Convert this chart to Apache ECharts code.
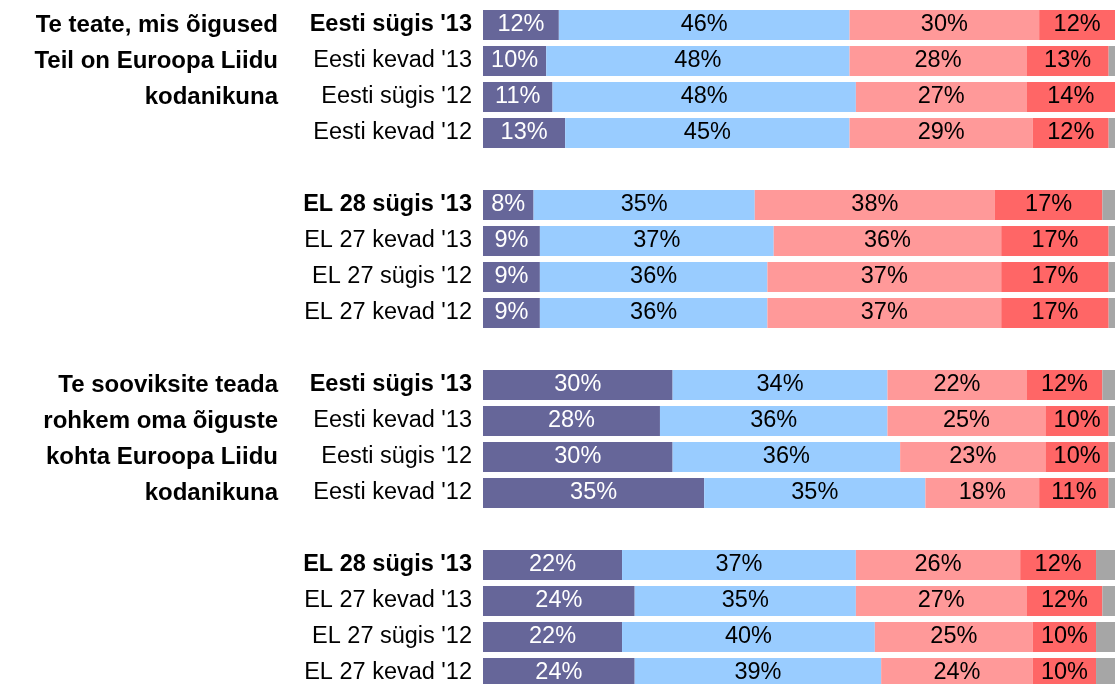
<!DOCTYPE html>
<html>
<head>
<meta charset="utf-8">
<script src="https://cdn.jsdelivr.net/npm/echarts@6/dist/echarts.min.js"></script>
<style>
html,body{margin:0;padding:0;background:#fff;overflow:hidden}
#chart{width:1115px;height:684px}
</style>
</head>
<body>
<div id="chart"></div>
<script>
// rows of the four blocks, top to bottom
var rowLabels = [
	"Eesti sügis '13", "Eesti kevad '13", "Eesti sügis '12", "Eesti kevad '12",
	"EL 28 sügis '13", "EL 27 kevad '13", "EL 27 sügis '12", "EL 27 kevad '12",
	"Eesti sügis '13", "Eesti kevad '13", "Eesti sügis '12", "Eesti kevad '12",
	"EL 28 sügis '13", "EL 27 kevad '13", "EL 27 sügis '12", "EL 27 kevad '12"
];
var boldRows = [0, 4, 8, 12];

// question text, one line per row of its block
var questionLines = [
	"Te teate, mis õigused", "Teil on Euroopa Liidu", "kodanikuna", "",
	"", "", "", "",
	"Te sooviksite teada", "rohkem oma õiguste", "kohta Euroopa Liidu", "kodanikuna",
	"", "", "", ""
];

var seriesNames = ["Jah, kindlasti", "Jah, mingil määral", "Ei, mitte eriti", "Ei, üldse mitte", "Ei tea"];
var colors = ["#666699", "#99ccff", "#ff9999", "#ff6666", "#a6a6a6"];

var valYesSure = [12, 10, 11, 13,  8, 9, 9, 9,  30, 28, 30, 35,  22, 24, 22, 24];
var valYesSome = [46, 48, 48, 45,  35, 37, 36, 36,  34, 36, 36, 35,  37, 35, 40, 39];
var valNoMuch  = [30, 28, 27, 29,  38, 36, 37, 37,  22, 25, 23, 18,  26, 27, 25, 24];
var valNoAll   = [12, 13, 14, 12,  17, 17, 17, 17,  12, 10, 10, 11,  12, 12, 10, 10];
var valDontKnow = [0, 1, 0, 1,  2, 1, 1, 1,  2, 1, 1, 1,  3, 2, 3, 3];

var blockSize = 4;

(function(){
	// put an empty row between blocks
	function withGaps(arr, gapVal){
		var out = [];
		for(var i=0;i<arr.length;i++){
			if(i>0 && i%blockSize==0) out.push(gapVal);
			out.push(arr[i]);
		}
		return out;
	}
	var keys = [];
	for(var i=0;i<rowLabels.length;i++){
		if(i>0 && i%blockSize==0) keys.push('gap' + i);
		keys.push('r' + i);
	}
	var labelOf = function(key){
		if(key.charAt(0)!='r') return '';
		var idx = +key.slice(1);
		if(boldRows.indexOf(idx) >= 0) return '{b|' + rowLabels[idx] + '}';
		return rowLabels[idx];
	};
	var questionOf = function(key){
		if(key.charAt(0)!='r') return '';
		var t = questionLines[+key.slice(1)];
		return t ? '{q|' + t + '}' : '';
	};

	var values = [valYesSure, valYesSome, valNoMuch, valNoAll, valDontKnow];
	var series = [];
	for(var s=0;s<values.length;s++){
		series.push({
			name: seriesNames[s],
			type: 'bar',
			stack: 'all',
			barWidth: 30,
			data: withGaps(values[s], '-'),
			itemStyle: {color: colors[s]},
			silent: true,
			label: {
				show: s < 4,
				position: 'inside',
				formatter: function(p){ return p.value > 0 ? p.value + '%' : ''; },
				color: s == 0 ? '#fff' : '#000',
				fontFamily: 'Liberation Sans',
				fontSize: 23.5
			}
		});
	}

	var chart = echarts.init(document.getElementById('chart'));
	chart.setOption({
		animation: false,
		backgroundColor: '#fff',
		grid: {left: 483, right: 0, top: 7, height: 684, outerBoundsMode: 'none', containLabel: false},
		xAxis: {type: 'value', min: 0, max: 100, show: false},
		yAxis: [{
			type: 'category',
			inverse: true,
			data: keys,
			axisLine: {show: false},
			axisTick: {show: false},
			axisLabel: {
				margin: 11,
				color: '#000',
				fontFamily: 'Liberation Sans',
				fontSize: 23.5,
				formatter: labelOf,
				rich: {b: {fontWeight: 'bold', fontSize: 23.5, fontFamily: 'Liberation Sans', color: '#000'}}
			}
		}, {
			type: 'category',
			inverse: true,
			position: 'left',
			offset: 195,
			data: keys,
			axisLine: {show: false},
			axisTick: {show: false},
			axisLabel: {
				margin: 10,
				formatter: questionOf,
				rich: {q: {fontWeight: 'bold', fontSize: 24, fontFamily: 'Liberation Sans', color: '#000'}}
			}
		}],
		series: series
	});
})();
</script>
</body>
</html>
